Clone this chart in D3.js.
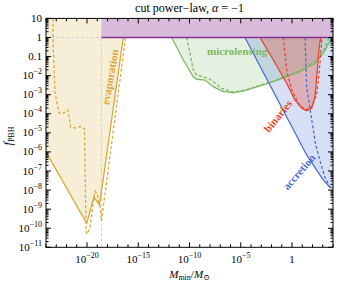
<!DOCTYPE html>
<html>
<head>
<meta charset="utf-8">
<script src="https://cdn.jsdelivr.net/npm/d3@7"></script>
<style>
body{margin:0;background:#fff}
text{font-family:"Liberation Serif","DejaVu Serif",serif}
</style>
</head>
<body>
<div id="chart"></div>
<script>
// curves as [log10 Mmin/Msun, log10 fPBH]
var evapSolid = [[-24,-6],[-20.03,-9.74],[-19.32,-8.37],[-18.78,-8.79],[-16.46,0]]
var evapDashed = [[-23.32,1],[-23.32,-0.13],[-23.12,-2.91],[-22.73,-3.96],[-22.29,-3.96],[-21.85,-3.80],[-21.59,-4.69],[-21.17,-4.75],[-20.63,-4.67],[-20.24,-4.80],[-20.10,-10.1],[-20.0,-10.31],[-19.71,-9.94],[-19.22,-8.05],[-19.0,-8.21],[-18.73,-8.89],[-18.59,-9.62],[-16.24,0]]
var microSolid = [[-11.74,0],[-10.60,-1.18],[-9.63,-2.06],[-9.30,-2.19],[-8.49,-2.23],[-7.68,-2.58],[-6.86,-2.81],[-5.73,-2.90],[-4.59,-2.79],[-1.82,-2.32],[0.78,-1.79],[2.24,-1.35],[3.05,-0.83],[3.87,-0.04]]
var microDashed = [[-10.27,0],[-9.95,-0.83],[-9.63,-1.7],[-9.30,-1.97],[-8.17,-2.14],[-7.68,-2.32],[-6.86,-2.67],[-5.75,-2.86],[-4.6,-2.76],[-1.8,-2.28],[0.8,-1.73],[2.2,-1.28],[3.1,-0.65],[3.62,0]]
var binSolid = [[-3.12,0],[-1.82,-1.18],[-0.52,-2.40],[0.29,-3.28],[0.95,-3.71],[1.43,-3.84],[1.92,-3.71],[2.24,-3.11],[2.47,-1.71],[2.66,-0.48],[2.80,0]]
var binDashed = [[-0.85,0],[-0.52,-1.71],[-0.03,-2.75],[0.62,-3.45],[1.27,-3.80],[1.92,-3.66],[2.41,-3.00],[2.62,-2.0],[2.80,-0.9],[2.93,0]]
var accSolid = [[-4.59,0],[1.43,-6.16],[2.41,-6.95],[3.05,-7.47],[3.71,-7.86],[4,-7.89]]
var accDashed = [[1.27,0],[1.43,-2.58],[1.8,-3.9],[2.3,-5.6],[2.75,-6.5],[3.2,-7.3],[3.71,-7.86],[4,-7.9]]
var cutoffM = -18.59

var xTickExps = [-20,-15,-10,-5,0]
var yTickExps = [1,0,-1,-2,-3,-4,-5,-6,-7,-8,-9,-10,-11]

var W = 342, H = 286
var L = 46, R = 333, T = 18.4, B = 247.3

var svg = d3.select("#chart").append("svg").attr("width",W).attr("height",H)

var x = d3.scaleLog().domain([1e-24,1e4]).range([L,R])
var y = d3.scaleLog().domain([1e-11,10]).range([B,T])

var p = function(d){return [x(Math.pow(10,d[0])), y(Math.pow(10,d[1]))]}
var line = d3.line().x(function(d){return p(d)[0]}).y(function(d){return p(d)[1]})

var gold = "#d8a93a", green = "#7fb862", red = "#e6462d", blue = "#4a6fd0", purple = "#86318f"

var clip = svg.append("clipPath").attr("id","pa").append("rect")
  .attr("x",L).attr("y",T).attr("width",R-L).attr("height",B-T)
var g = svg.append("g").attr("clip-path","url(#pa)")

// fills
var evapFill = [[-24,1]].concat(evapSolid).concat([[cutoffM,0],[cutoffM,1]])
g.append("path").attr("d",line(evapFill)+"Z").attr("fill",gold).attr("fill-opacity",0.2)
g.append("path").attr("d",line(microSolid)+"Z").attr("fill",green).attr("fill-opacity",0.2)
g.append("path").attr("d",line(accSolid.concat([[4,0]]))+"Z").attr("fill",blue).attr("fill-opacity",0.22)
g.append("path").attr("d",line(binSolid)+"Z").attr("fill",red).attr("fill-opacity",0.3)
g.append("path").attr("d",line([[cutoffM,0],[4,0],[4,1],[cutoffM,1]])+"Z").attr("fill","#d9bcdc")

// grey guides
g.append("path").attr("d",line([[-24,0],[cutoffM,0]])).attr("stroke","#cfcfcf").attr("stroke-dasharray","3,2").attr("fill","none")
g.append("path").attr("d",line([[cutoffM,1],[cutoffM,-11]])).attr("stroke","#cfcfcf").attr("stroke-dasharray","3,2").attr("fill","none")

function curve(data,col,dashed){
  g.append("path").attr("d",line(data)).attr("fill","none").attr("stroke",col)
   .attr("stroke-width",1.3).attr("stroke-dasharray",dashed?"3,2.2":null)
}
curve(evapSolid,gold); curve(evapDashed,gold,true)
curve(microSolid,green); curve(microDashed,green,true)
curve(accSolid,blue); curve(accDashed,blue,true)
curve(binSolid,red); curve(binDashed,red,true)
g.append("path").attr("d",line([[cutoffM,0],[4,0]])).attr("stroke",purple).attr("stroke-width",1.5)

// labels on regions
function lab(t,col,cx,cy,rot){
  svg.append("text").text(t).attr("fill",col).attr("font-weight","bold").attr("font-size","11px")
   .attr("text-anchor","middle").attr("transform","translate("+cx+","+cy+") rotate("+rot+")").attr("dy","0.35em")
}
lab("evaporation",gold,110,77,-80)
svg.append("text").text("microlensing").attr("fill",green).attr("font-weight","bold").attr("font-size","11px")
  .attr("x",207).attr("y",55)
lab("binaries",red,278,116,-51)
lab("accretion",blue,299,172,-49)

// frame
svg.append("rect").attr("x",L).attr("y",T).attr("width",R-L).attr("height",B-T)
  .attr("fill","none").attr("stroke","#000").attr("stroke-width",1)

var ax = svg.append("g").attr("stroke","#000").attr("stroke-width",1)
for (var e=-24;e<=4;e++){
  var xx = x(Math.pow(10,e)), len = (e%5==0)?5:3
  ax.append("line").attr("x1",xx).attr("x2",xx).attr("y1",B).attr("y2",B-len)
  ax.append("line").attr("x1",xx).attr("x2",xx).attr("y1",T).attr("y2",T+len)
}
for (var e=-11;e<=1;e++){
  for (var m=1;m<=9;m++){
    var v = m*Math.pow(10,e)
    if (v>10) break
    var yy = y(v), len = (m==1)?5:2.5
    ax.append("line").attr("x1",L).attr("x2",L+len).attr("y1",yy).attr("y2",yy)
    ax.append("line").attr("x1",R).attr("x2",R-len).attr("y1",yy).attr("y2",yy)
  }
}

// tick labels
xTickExps.forEach(function(e){
  var t = svg.append("text").attr("x",x(Math.pow(10,e))).attr("y",263).attr("text-anchor","middle").attr("font-size","11px")
  if (e==0){ t.text("1") } else {
    t.append("tspan").text("10")
    t.append("tspan").text("\u2212"+(-e)).attr("font-size","8px").attr("dy",-5)
  }
})
yTickExps.forEach(function(e){
  var t = svg.append("text").attr("x",42).attr("y",y(Math.pow(10,e))+3.5).attr("text-anchor","end").attr("font-size","11px")
  if (e==1) t.text("10")
  else if (e==0) t.text("1")
  else if (e==-1) t.text("0.1")
  else {
    t.append("tspan").text("10")
    t.append("tspan").text("\u2212"+(-e)).attr("font-size","8px").attr("dy",-5)
  }
})

// titles
var ti = svg.append("text").attr("x",(L+R)/2).attr("y",12).attr("text-anchor","middle").attr("font-size","12px")
ti.append("tspan").text("cut power\u2212law, ")
ti.append("tspan").text("\u03b1").attr("font-style","italic")
ti.append("tspan").text(" = \u22121")

var xl = svg.append("text").attr("x",(L+R)/2).attr("y",278).attr("text-anchor","middle").attr("font-size","11px")
xl.append("tspan").text("M").attr("font-style","italic")
xl.append("tspan").text("min").attr("font-size","8px").attr("dy",2)
xl.append("tspan").text("/").attr("dy",-2)
xl.append("tspan").text("M").attr("font-style","italic")
xl.append("tspan").text("\u2299").attr("font-size","8px").attr("dy",2)

var yl = svg.append("text").attr("transform","translate(12,136) rotate(-90)").attr("text-anchor","middle").attr("font-size","12px")
yl.append("tspan").text("f").attr("font-style","italic")
yl.append("tspan").text("PBH").attr("font-size","8px").attr("dy",2)
</script>
</body>
</html>
